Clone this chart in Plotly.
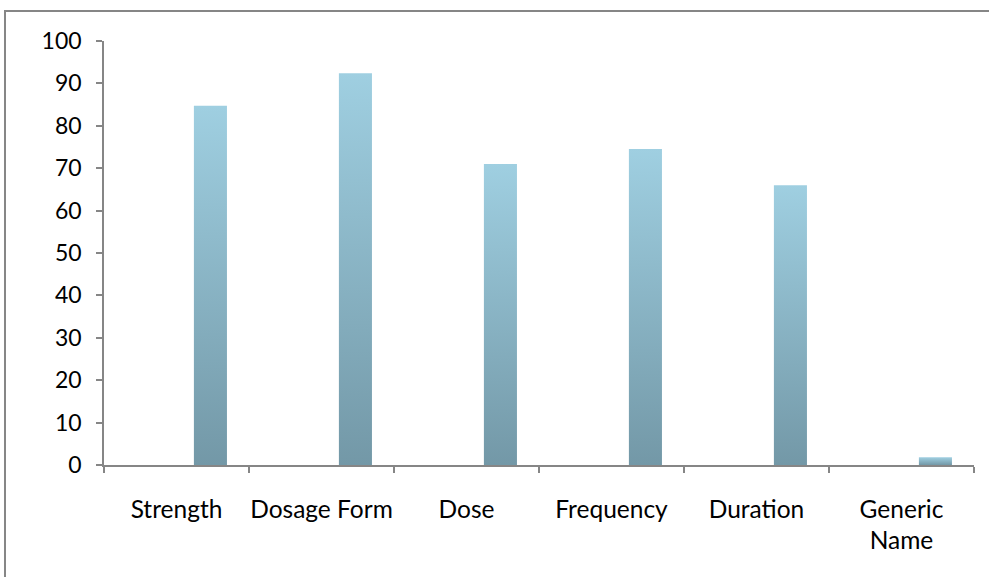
import plotly.graph_objects as go

categories = ["Strength", "Dosage Form", "Dose", "Frequency", "Duration", "Generic Name"]
tick_labels = ["Strength", "Dosage Form", "Dose", "Frequency", "Duration", "Generic<br>Name"]
values = [84.7, 92.4, 71.0, 74.5, 66.0, 1.8]
y_ticks = list(range(0, 101, 10))

BAR_OFFSET = 0.12
BAR_WIDTH = 0.228
TOP_COLOR = "#9fcfe1"
BOTTOM_COLOR = "#7398a7"
AXIS_COLOR = "#868686"
FONT = "Lato"
FSIZE = 23

fig = go.Figure()
for i, (cat, v) in enumerate(zip(categories, values)):
    x0 = i + BAR_OFFSET
    x1 = x0 + BAR_WIDTH
    fig.add_trace(go.Scatter(
        x=[x0, x1, x1, x0, x0],
        y=[0, 0, v, v, 0],
        mode="lines",
        line=dict(width=0),
        fill="toself",
        fillgradient=dict(
            type="vertical",
            colorscale=[[0, BOTTOM_COLOR], [1, TOP_COLOR]],
        ),
        name=cat,
        hoverinfo="skip",
        showlegend=False,
    ))

# invisible trace for label axis
fig.add_trace(go.Scatter(x=[0], y=[0], xaxis="x2", mode="markers",
                         marker=dict(opacity=0), showlegend=False, hoverinfo="skip"))

fig.update_layout(
    width=989, height=577,
    margin=dict(l=104, r=15, t=41, b=112),
    plot_bgcolor="white", paper_bgcolor="white",
    font=dict(family=FONT, size=FSIZE, color="black"),
    xaxis=dict(
        range=[-0.5, 5.5],
        tickvals=[i - 0.5 for i in range(len(categories) + 1)],
        ticktext=[""] * (len(categories) + 1),
        ticks="outside", ticklen=6, tickcolor=AXIS_COLOR, tickwidth=1.5,
        showline=True, linecolor=AXIS_COLOR, linewidth=1.5,
        showgrid=False, zeroline=False,
    ),
    xaxis2=dict(
        range=[-0.5, 5.5], overlaying="x", side="bottom", anchor="y",
        tickvals=list(range(len(categories))), ticktext=tick_labels,
        ticks="", showline=False, showgrid=False, zeroline=False,
        ticklabelstandoff=27,
        tickfont=dict(family=FONT, size=24.5),
    ),
    yaxis=dict(
        range=[0, 100], tickvals=y_ticks,
        ticks="outside", ticklen=6, tickcolor=AXIS_COLOR, tickwidth=1.5,
        showline=True, linecolor=AXIS_COLOR, linewidth=1.5,
        showgrid=False, zeroline=False,
        ticklabelstandoff=10,
    ),
    shapes=[dict(
        type="path", xref="paper", yref="paper",
        path="M -0.1138,-0.3 L -0.1138,1.0708 L 1.1,1.0708",
        line=dict(color=AXIS_COLOR, width=2),
    )],
)

fig.write_html("out.html")
